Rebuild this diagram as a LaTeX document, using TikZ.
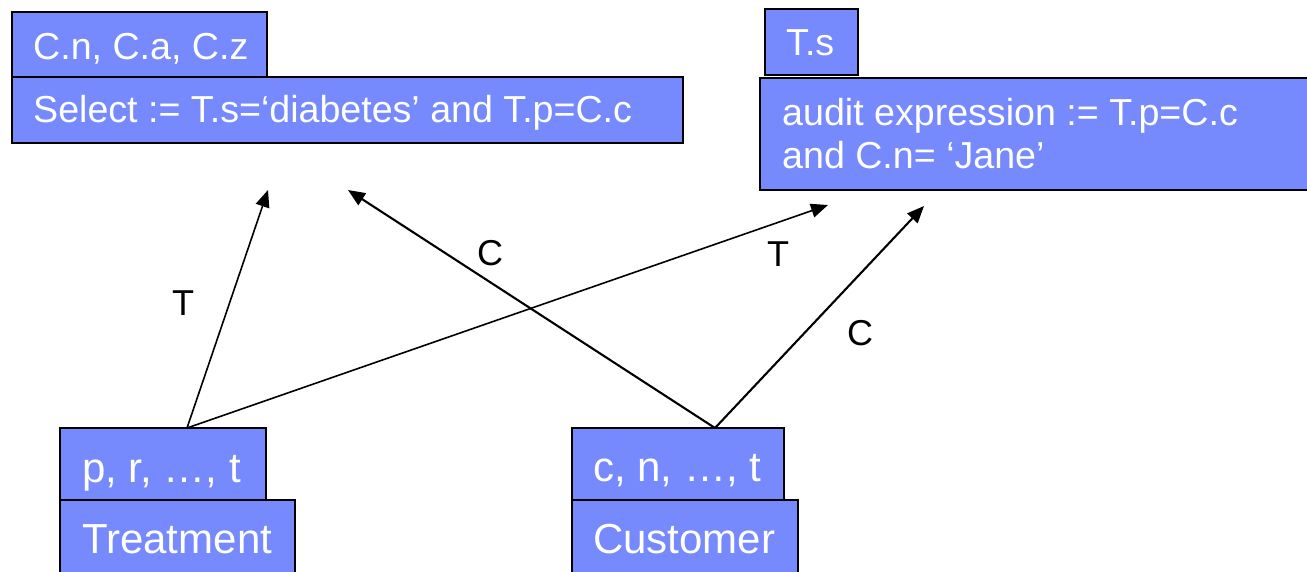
\documentclass[tikz,border=0pt]{standalone}
\usepackage{fontspec}
\setmainfont{Liberation Sans}
\usetikzlibrary{arrows.meta}
\definecolor{boxblue}{RGB}{118,137,253}
\begin{document}
\begin{tikzpicture}[x=1pt,y=-1pt,
  box/.style={draw=black, line width=2.4pt, fill=boxblue, anchor=north west, inner sep=0pt, outer sep=0pt},
  toptext/.style={anchor=base west, inner sep=0pt, text=white, font=\fontsize{37.6}{44}\selectfont},
  bottext/.style={anchor=base west, inner sep=0pt, text=white, font=\fontsize{42}{50}\selectfont},
  lbl/.style={inner sep=0pt, font=\fontsize{36}{43}\selectfont},
  tarrow/.style={line width=1.6pt, -{Triangle[length=17pt,width=14pt]}},
  carrow/.style={line width=2.1pt, -{Triangle[length=17pt,width=14pt]}}]
\useasboundingbox (0,0) rectangle (1307,571);
% top left
\node[box, minimum width=255pt, minimum height=67pt] (cnbox) at (12,12) {};
\node[box, minimum width=671pt, minimum height=66pt] (selbox) at (12,77) {};
\node[toptext] (cntext) at (33,59) {C.n, C.a, C.z};
\node[toptext] (seltext) at (33,122.5) {Select := T.s=‘diabetes’ and T.p=C.c};
% top right
\node[box, minimum width=93pt, minimum height=66pt] (tsbox) at (765,9) {};
\node[box, minimum width=560pt, minimum height=112pt] (audbox) at (760,78) {};
\node[toptext] (tstext) at (786,55) {T.s};
\node[toptext] (audtexta) at (782,125) {audit expression := T.p=C.c};
\node[toptext] (audtextb) at (782,168) {and C.n= ‘Jane’};
% bottom
\node[box, minimum width=206pt, minimum height=72pt] (prbox) at (60,428) {};
\node[box, minimum width=235pt, minimum height=80pt] (trbox) at (60,500) {};
\node[bottext] (prtext) at (82,482) {p, r, …, t};
\node[bottext] (trtext) at (82,553) {Treatment};
\node[box, minimum width=212pt, minimum height=72pt] (cbox) at (572,428) {};
\node[box, minimum width=226pt, minimum height=80pt] (cubox) at (572,500) {};
\node[bottext] (ctext) at (593,481) {c, n, …, t};
\node[bottext] (cutext) at (593,553) {Customer};
% connectors
\coordinate (tsrc) at ([xshift=127pt]prbox.north west);
\coordinate (csrc) at ([xshift=143pt]cbox.north west);
\coordinate (t1) at (268,190);
\coordinate (t2) at (828,205);
\coordinate (c1) at (348,190);
\coordinate (c2) at (924,206);
\draw[tarrow] (tsrc) -- (t1);
\draw[tarrow] (tsrc) -- (t2);
\draw[carrow] (csrc) -- (c1);
\draw[carrow] (csrc) -- (c2);
\node[lbl] (lt1) at (183,303) {T};
\node[lbl] (lt2) at (778,254) {T};
\node[lbl] (lc1) at (490,253) {C};
\node[lbl] (lc2) at (860,333) {C};
\end{tikzpicture}
\end{document}
